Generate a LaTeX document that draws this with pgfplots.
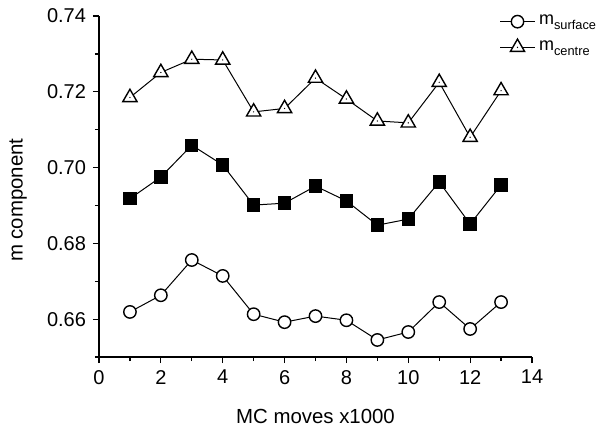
\documentclass[border=0pt]{standalone}
\usepackage{pgfplots}
\pgfplotsset{compat=1.18}
\usepackage{fontspec}
\setmainfont{Liberation Sans}

% open triangle with a small dot in its centre
\pgfdeclareplotmark{tridot}{%
  \pgfpathmoveto{\pgfqpointpolar{90}{\pgfplotmarksize}}%
  \pgfpathlineto{\pgfqpointpolar{210}{\pgfplotmarksize}}%
  \pgfpathlineto{\pgfqpointpolar{-30}{\pgfplotmarksize}}%
  \pgfpathclose
  \pgfusepathqfillstroke
  \begin{pgfscope}%
  \pgfpathcircle{\pgfpointorigin}{0.35pt}%
  \pgfsetfillcolor{black}%
  \pgfusepathqfill
  \end{pgfscope}%
}

\newcommand{\sub}[1]{\raisebox{-0.5ex}{\fontsize{6.4}{7}\selectfont #1}}

\begin{document}
\begin{tikzpicture}
\begin{axis}[
    at={(0pt,0pt)}, anchor=south west,
    scale only axis,
    width=216.5pt, height=170.5pt,
    xmin=0, xmax=14,
    ymin=0.65, ymax=0.74,
    axis x line*=bottom,
    axis y line*=left,
    axis line style={line width=0.7pt},
    tick style={black, line width=0.6pt},
    tick align=outside,
    major tick length=3pt,
    minor tick length=2pt,
    xtick={0,2,4,6,8,10,12,14},
    minor xtick={1,3,5,7,9,11,13},
    ytick={0.66,0.68,0.70,0.72,0.74},
    yticklabels={0.66,0.68,0.70,0.72,0.74},
    minor ytick={0.65,0.67,0.69,0.71,0.73},
    /pgf/number format/assume math mode=true,
    ticklabel style={font=\fontsize{10}{11}\selectfont},
    label style={font=\fontsize{10.2}{12}\selectfont},
    xlabel={MC moves x1000},
    ylabel={m component},
    xlabel style={at={(axis description cs:0.5,-0.175)}, anchor=center},
    ylabel style={at={(axis description cs:-0.187,0.46)}, anchor=center},
    legend style={at={(rel axis cs:0.925,1.015)}, anchor=north west,
        draw=none, fill=none, inner sep=0pt,
        font=\fontsize{9}{10}\selectfont, row sep=2.5pt},
    legend cell align=left,
]
\addplot[black, line width=0.5pt, mark=*, mark size=3.1pt,
    mark options={fill=white, line width=0.7pt}] coordinates {
    (1,0.6619) (2,0.6663) (3,0.6756) (4,0.6714) (5,0.6613) (6,0.6592)
    (7,0.6608) (8,0.6597) (9,0.6545) (10,0.6566) (11,0.6645) (12,0.6574)
    (13,0.6645)
};
\addlegendentry{m\sub{surface}}
\addplot[black, line width=0.5pt, mark=tridot, mark size=4.1pt,
    mark options={fill=white, line width=0.7pt}] coordinates {
    (1,0.7185) (2,0.7251) (3,0.7286) (4,0.7284) (5,0.7147) (6,0.7156)
    (7,0.7236) (8,0.7181) (9,0.7123) (10,0.7118) (11,0.7225) (12,0.7080)
    (13,0.7203)
};
\addlegendentry{m\sub{centre}}
\addplot[black, line width=0.5pt, mark=square*, mark size=3.1pt,
    mark options={fill=black}, forget plot] coordinates {
    (1,0.6918) (2,0.6975) (3,0.7059) (4,0.7007) (5,0.6901) (6,0.6906)
    (7,0.6951) (8,0.6912) (9,0.6848) (10,0.6864) (11,0.6962) (12,0.6851)
    (13,0.6954)
};
\end{axis}
\path (-49.5pt,-34.5pt) rectangle (252.5pt,178.5pt);
\end{tikzpicture}
\end{document}
